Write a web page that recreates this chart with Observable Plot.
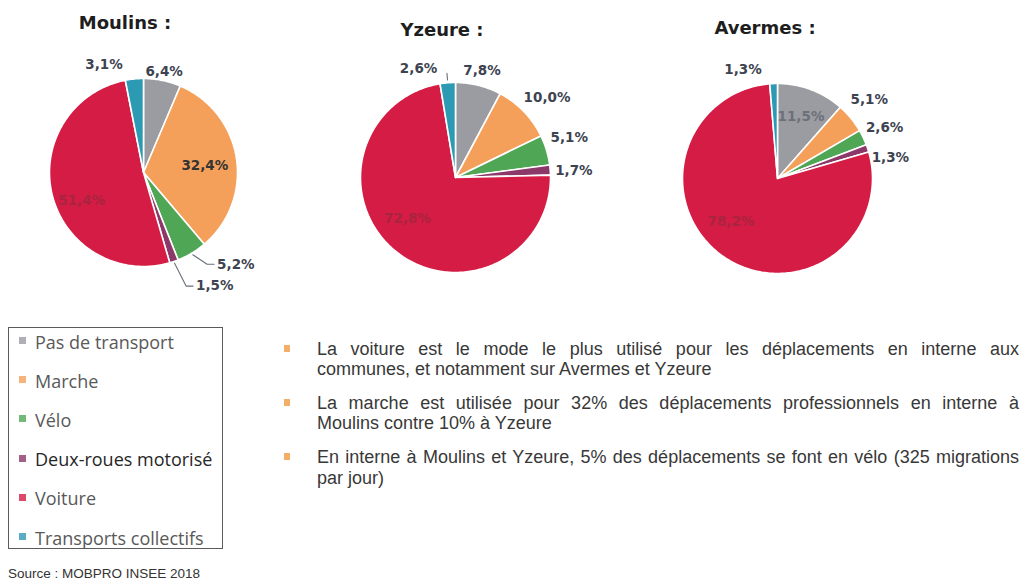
<!DOCTYPE html>
<html><head><meta charset="utf-8">
<script src="https://cdn.jsdelivr.net/npm/d3@7"></script>
<script src="https://cdn.jsdelivr.net/npm/@observablehq/plot@0.6"></script>
<style>
body{margin:0;background:#fff;}
#page{position:relative;width:1021px;height:582px;overflow:hidden;background:#fff;}
.title{position:absolute;font:bold 18px "DejaVu Sans";color:#1e1e1e;transform:translate(-50%,-50%);white-space:nowrap;z-index:2;}
.pie{position:absolute;}
.pie svg{background:transparent !important;}
#legend{position:absolute;left:8px;top:327px;width:215px;height:222px;border:1.5px solid #5b5b5b;box-sizing:border-box;}
.lrow{position:absolute;left:0;height:22px;line-height:22px;font:18px "Open Sans";color:#595959;white-space:nowrap;}
.lsw{position:absolute;left:9.5px;top:7.5px;width:7px;height:7px;opacity:.8;}
.ltx{position:absolute;left:26px;top:0;}
#bullets{position:absolute;left:317px;top:338.75px;width:702px;font:18px "Liberation Sans";color:#383838;}
.par{position:relative;margin-bottom:13.2px;}
.line{height:20.5px;line-height:20.5px;}
.just{text-align:justify;text-align-last:justify;}
.bm{position:absolute;left:-33px;top:6px;width:6px;height:7px;background:#f2a04f;opacity:.85;}
#source{position:absolute;left:8px;top:566px;font:13.5px "Liberation Sans";color:#333;white-space:nowrap;}
</style></head>
<body><div id="page"></div>
<script>
// ---------- data ----------
const modes = ["Pas de transport","Marche","Vélo","Deux-roues motorisé","Voiture","Transports collectifs"];
const modeColors = ["#9a9ca2","#f4a05a","#4fa655","#8c3868","#d41c44","#2d9ab4"];
const cities = ["Moulins","Yzeure","Avermes"];
const moulinsShares = [6.4, 32.4, 5.2, 1.5, 51.4, 3.1];
const yzeureShares  = [7.8, 10.0, 5.1, 1.7, 72.8, 2.6];
const avermesShares = [11.5, 5.1, 2.6, 1.3, 78.2, 1.3];
const bulletLines = [
  ["La voiture est le mode le plus utilisé pour les déplacements en interne aux", "communes, et notamment sur Avermes et Yzeure"],
  ["La marche est utilisée pour 32% des déplacements professionnels en interne à", "Moulins contre 10% à Yzeure"],
  ["En interne à Moulins et Yzeure, 5% des déplacements se font en vélo (325 migrations", "par jour)"]
];
const sourceText = "Source : MOBPRO INSEE 2018";

// ---------- layout / style ----------
const OUT = "#3d4350", INRED = "#8a2a3e", INGRAY = "#6c7079", INDARK = "#333";
const pieLayout = {
  Moulins: {cx:143, cy:172, r:94, title:[125,22], labels:[
    {k:1.1, dx:0, dy:0, a:"middle", f:OUT},
    {k:0.66, dx:0, dy:2, a:"middle", f:INDARK},
    {k:1.15, dx:18, dy:-1, a:"start", f:OUT, leader:"elbow"},
    {k:1.3, dx:13, dy:-2, a:"start", f:OUT, leader:"elbow"},
    {k:0.72, dx:4, dy:12, a:"middle", f:INRED, o:0.6},
    {k:1.15, dx:-29, dy:0, a:"middle", f:OUT}]},
  Yzeure: {cx:455, cy:177, r:95, title:[442,29], labels:[
    {k:1.15, dx:0, dy:-1, a:"middle", f:OUT},
    {k:1.25, dx:6, dy:3, a:"middle", f:OUT},
    {k:1.25, dx:0, dy:-6, a:"middle", f:OUT},
    {k:1.25, dx:0, dy:2, a:"middle", f:OUT},
    {k:0.66, dx:-8, dy:-7, a:"middle", f:INRED, o:0.6},
    {k:1.15, dx:-28, dy:0, a:"middle", f:OUT, leader:"tick"}]},
  Avermes: {cx:777, cy:178, r:95, title:[765,27], labels:[
    {k:0.7, dx:0, dy:0, a:"middle", f:INGRAY},
    {k:1.25, dx:0, dy:-3, a:"middle", f:OUT},
    {k:1.25, dx:0, dy:0, a:"middle", f:OUT},
    {k:1.22, dx:3, dy:16, a:"middle", f:OUT},
    {k:0.66, dx:-11, dy:-8, a:"middle", f:INRED, o:0.6},
    {k:1.15, dx:-30, dy:0, a:"middle", f:OUT}]}
};
const shares = {Moulins: moulinsShares, Yzeure: yzeureShares, Avermes: avermesShares};
const fmt = v => v.toFixed(1).replace(".", ",") + "%";

const page = document.getElementById("page");
const S = 150;

for (const city of cities) {
  const L = pieLayout[city], vals = shares[city], R = L.r;
  const total = d3.sum(vals);
  let cum = 0;
  const pts = [], labels = [], leaders = [];
  vals.forEach((v, i) => {
    const a0 = cum / total * 2 * Math.PI; cum += v;
    const a1 = cum / total * 2 * Math.PI;
    const n = Math.max(2, Math.ceil((a1 - a0) / (Math.PI / 180)));
    pts.push({mode: modes[i], x: 0, y: 0});
    for (let j = 0; j <= n; j++) {
      const a = a0 + (a1 - a0) * j / n;
      pts.push({mode: modes[i], x: Math.sin(a), y: Math.cos(a)});
    }
    pts.push({mode: modes[i], x: 0, y: 0});
    const m = (a0 + a1) / 2, c = L.labels[i];
    const lx = c.k * Math.sin(m) + c.dx / R, ly = c.k * Math.cos(m) - c.dy / R;
    labels.push({text: fmt(v), x: lx, y: ly, c});
    if (c.leader === "elbow") {
      leaders.push({id:i, x: 1.02*Math.sin(m), y: 1.02*Math.cos(m)});
      leaders.push({id:i, x: lx - 10/R, y: ly});
      leaders.push({id:i, x: lx - 3/R, y: ly});
    } else if (c.leader === "tick") {
      leaders.push({id:i, x: 1.03*Math.sin(m), y: 1.03*Math.cos(m)});
      leaders.push({id:i, x: 1.1*Math.sin(m), y: 1.1*Math.cos(m)});
    }
  });
  const chart = Plot.plot({
    width: 2*S, height: 2*S, margin: 0,
    style: {background: "transparent", overflow: "visible"},
    x: {domain: [-S/R, S/R], axis: null},
    y: {domain: [-S/R, S/R], axis: null},
    color: {domain: modes, range: modeColors},
    marks: [
      Plot.line(pts, {x:"x", y:"y", z:"mode", fill:"mode", stroke:"white", strokeWidth:1.6, strokeLinejoin:"round", curve:"linear"}),
      Plot.line(leaders, {x:"x", y:"y", z:"id", stroke:"#6a6f7a", strokeWidth:1.1}),
      ...labels.map(l => Plot.text([l], {x:"x", y:"y", text:"text", textAnchor:l.c.a, fill:l.c.f, fillOpacity:l.c.o ?? 1,
        fontFamily:"DejaVu Sans", fontWeight:"bold", fontSize:13.5}))
    ]
  });
  const wrap = document.createElement("div");
  wrap.className = "pie";
  wrap.style.left = (L.cx - S) + "px"; wrap.style.top = (L.cy - S) + "px";
  wrap.style.width = 2*S + "px"; wrap.style.height = 2*S + "px";
  wrap.appendChild(chart);
  page.appendChild(wrap);
  const t = document.createElement("div");
  t.className = "title"; t.textContent = city + " :";
  t.style.left = L.title[0] + "px"; t.style.top = L.title[1] + "px";
  page.appendChild(t);
}

// legend
const legend = document.createElement("div");
legend.id = "legend";
modes.forEach((m, i) => {
  const row = document.createElement("div");
  row.className = "lrow";
  row.style.top = (12.5 + i * 39.2 - 11) + "px";
  if (m === "Deux-roues motorisé") row.style.color = "#262626";
  const sw = document.createElement("div"); sw.className = "lsw"; sw.style.background = modeColors[i];
  const tx = document.createElement("div"); tx.className = "ltx"; tx.textContent = m;
  row.appendChild(sw); row.appendChild(tx); legend.appendChild(row);
});
page.appendChild(legend);

// bullets
const bl = document.createElement("div"); bl.id = "bullets";
bulletLines.forEach(lines => {
  const p = document.createElement("div"); p.className = "par";
  const bm = document.createElement("div"); bm.className = "bm"; p.appendChild(bm);
  lines.forEach((ln, j) => {
    const d = document.createElement("div");
    d.className = "line" + (j < lines.length - 1 ? " just" : "");
    d.textContent = ln; p.appendChild(d);
  });
  bl.appendChild(p);
});
page.appendChild(bl);

const src = document.createElement("div"); src.id = "source"; src.textContent = sourceText;
page.appendChild(src);
</script>
</body></html>
